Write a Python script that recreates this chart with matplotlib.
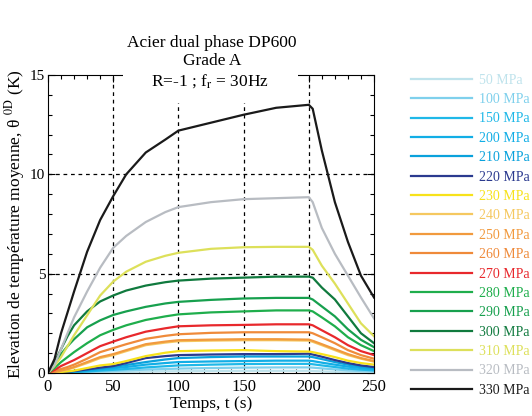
import numpy as np
import matplotlib
matplotlib.use("Agg")
import matplotlib.pyplot as plt
from matplotlib.ticker import MultipleLocator
from matplotlib.patches import Rectangle

plt.rcParams['font.family'] = ['Liberation Serif', 'DejaVu Serif']
plt.rcParams['mathtext.fontset'] = 'stix'

# temps (s) des points
t = [0, 5, 10, 15, 20, 30, 40, 50, 60, 75, 90, 100, 125, 150, 175, 200, 203, 210, 220, 230, 240, 250]

labels = ["50 MPa", "100 MPa", "150 MPa", "200 MPa", "210 MPa", "220 MPa", "230 MPa",
          "240 MPa", "250 MPa", "260 MPa", "270 MPa", "280 MPa", "290 MPa", "300 MPa",
          "310 MPa", "320 MPa", "330 MPa"]
colors = ["#bfe3ec", "#7fd0ec", "#1fb8e8", "#12aee6", "#0aa2dc", "#2b3a8f", "#f7e21a",
          "#f5c860", "#f19a3e", "#ef8a3a", "#e8282c", "#1fae4c", "#17a04e", "#107a3e",
          "#dde05a", "#b8bcc2", "#1a1a1a"]

s50 = [0, 0, 0, 0.005, 0.01, 0.02, 0.03, 0.04, 0.05, 0.07, 0.085, 0.09, 0.1, 0.11, 0.11, 0.11, 0.1, 0.08, 0.06, 0.05, 0.04, 0.03]
s100 = [0, 0, 0, 0.01, 0.02, 0.05, 0.08, 0.1, 0.13, 0.17, 0.2, 0.22, 0.25, 0.27, 0.28, 0.28, 0.27, 0.23, 0.18, 0.13, 0.1, 0.08]
s150 = [0, 0, 0.01, 0.025, 0.04, 0.08, 0.12, 0.16, 0.2, 0.28, 0.34, 0.38, 0.42, 0.45, 0.46, 0.46, 0.44, 0.38, 0.3, 0.22, 0.17, 0.13]
s200 = [0, 0, 0.02, 0.04, 0.06, 0.12, 0.18, 0.24, 0.3, 0.42, 0.5, 0.55, 0.58, 0.6, 0.62, 0.62, 0.6, 0.52, 0.42, 0.32, 0.25, 0.2]
s210 = [0, 0, 0.02, 0.05, 0.08, 0.15, 0.22, 0.3, 0.4, 0.55, 0.68, 0.75, 0.8, 0.83, 0.83, 0.83, 0.8, 0.7, 0.55, 0.42, 0.32, 0.25]
s220 = [0, 0, 0.03, 0.06, 0.1, 0.18, 0.27, 0.35, 0.5, 0.75, 0.85, 0.9, 0.93, 0.95, 0.95, 0.97, 0.93, 0.82, 0.65, 0.5, 0.38, 0.3]
s230 = [0, 0, 0.05, 0.08, 0.12, 0.25, 0.38, 0.45, 0.6, 0.85, 1.02, 1.1, 1.13, 1.15, 1.1, 1.08, 1.05, 0.95, 0.8, 0.62, 0.5, 0.42]
s240 = [0, 0.04, 0.1, 0.18, 0.27, 0.5, 0.75, 0.9, 1.1, 1.4, 1.53, 1.6, 1.63, 1.65, 1.65, 1.63, 1.57, 1.4, 1.15, 0.9, 0.72, 0.57]
s250 = [0, 0.05, 0.12, 0.2, 0.3, 0.55, 0.8, 0.95, 1.15, 1.45, 1.58, 1.65, 1.68, 1.7, 1.7, 1.68, 1.62, 1.45, 1.2, 0.95, 0.75, 0.6]
s260 = [0, 0.1, 0.2, 0.3, 0.42, 0.72, 1.05, 1.25, 1.45, 1.72, 1.87, 1.95, 2.02, 2.05, 2.05, 2.05, 2.0, 1.8, 1.5, 1.15, 0.9, 0.72]
s270 = [0, 0.15, 0.35, 0.5, 0.65, 1.0, 1.35, 1.58, 1.8, 2.08, 2.25, 2.35, 2.4, 2.42, 2.45, 2.45, 2.4, 2.15, 1.8, 1.4, 1.1, 0.9]
s280 = [0, 0.25, 0.55, 0.8, 1.05, 1.5, 1.9, 2.17, 2.4, 2.67, 2.85, 2.95, 3.05, 3.1, 3.15, 3.15, 3.1, 2.8, 2.35, 1.8, 1.4, 1.1]
s290 = [0, 0.45, 0.95, 1.35, 1.7, 2.3, 2.65, 2.92, 3.1, 3.33, 3.5, 3.58, 3.68, 3.75, 3.78, 3.78, 3.7, 3.35, 2.85, 2.2, 1.67, 1.3]
s300 = [0, 0.55, 1.2, 1.85, 2.4, 3.1, 3.6, 3.9, 4.15, 4.4, 4.57, 4.65, 4.75, 4.8, 4.85, 4.85, 4.8, 4.3, 3.7, 2.85, 2.0, 1.5]
s310 = [0, 0.35, 0.8, 1.35, 1.9, 2.9, 3.9, 4.6, 5.1, 5.6, 5.9, 6.05, 6.25, 6.33, 6.35, 6.35, 6.2, 5.4, 4.5, 3.5, 2.5, 1.85]
s320 = [0, 0.4, 1.2, 2.0, 2.8, 4.1, 5.3, 6.3, 6.9, 7.6, 8.1, 8.35, 8.6, 8.75, 8.8, 8.85, 8.6, 7.3, 6.0, 4.9, 3.8, 2.75]
s330 = [0, 0.7, 2.0, 3.05, 4.1, 6.1, 7.7, 8.9, 10.0, 11.1, 11.75, 12.2, 12.6, 13.0, 13.35, 13.5, 13.3, 11.2, 8.6, 6.6, 4.9, 3.8]

series = [s50, s100, s150, s200, s210, s220, s230, s240, s250, s260, s270, s280,
          s290, s300, s310, s320, s330]

fig = plt.figure(figsize=(5.32, 4.16), dpi=100)
ax = fig.add_axes([0.0902, 0.1034, 0.6128, 0.7163])

for y, c, lab in zip(series, colors, labels):
    ax.plot(t, y, color=c, lw=1.6, label=lab)

ax.set_xlim(0, 250)
ax.set_ylim(0, 15)
ax.xaxis.set_major_locator(MultipleLocator(50))
ax.xaxis.set_minor_locator(MultipleLocator(10))
ax.yaxis.set_major_locator(MultipleLocator(5))
ax.yaxis.set_minor_locator(MultipleLocator(1))
ax.tick_params(which='both', direction='in', top=True, right=True, width=0.8)
ax.tick_params(which='major', length=5)
ax.tick_params(which='minor', length=3)
ax.tick_params(axis='x', labelsize=12, pad=4)
ax.tick_params(axis='y', labelsize=11, pad=2)

for xv in [50, 100, 150, 200]:
    ax.axvline(xv, color='black', lw=0.9, ls=(0, (3, 3)), zorder=0.5)
for yv in [5, 10]:
    ax.axhline(yv, color='black', lw=0.9, ls=(0, (3, 3)), zorder=0.5)

ax.set_xlabel("Temps, t (s)", fontsize=12.5, labelpad=1)
ax.set_ylabel(r"Elevation de température moyenne, θ $^{\mathrm{0D}}$ (K)", fontsize=12.5, labelpad=2)

# bloc blanc du titre qui masque le haut du cadre
fig.patches.append(Rectangle((123 / 532, 1 - 103 / 416), 175 / 532, 40 / 416,
                             transform=fig.transFigure, facecolor='white',
                             edgecolor='none', zorder=2.5))
fig.text(0.398, 0.897, "Acier dual phase DP600", ha='center', va='center', fontsize=12.5)
fig.text(0.398, 0.853, "Grade A", ha='center', va='center', fontsize=12.5)
fig.text(0.395, 0.806, r"R=-1 ; f$_{\mathrm{r}}$ = 30Hz", ha='center', va='center',
         fontsize=12.5, zorder=3)

ax.legend(loc='upper left', bbox_to_anchor=(0.7726, 0.823), bbox_transform=fig.transFigure,
          frameon=False, fontsize=10, labelcolor='linecolor', handlelength=4.4,
          handletextpad=0.5, labelspacing=0.46, borderpad=0, borderaxespad=0)

fig.savefig("out.png", dpi=100)
